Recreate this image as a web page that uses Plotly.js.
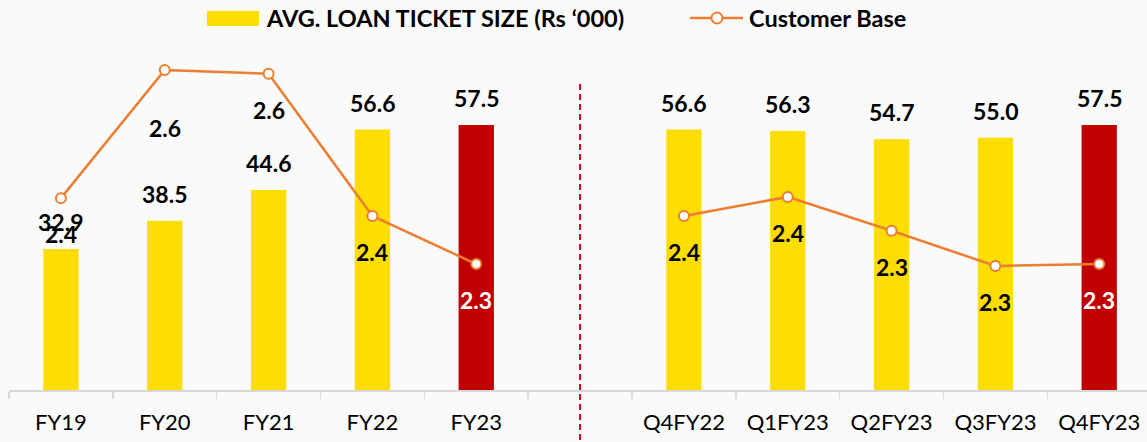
<!DOCTYPE html>
<html>
<head>
<meta charset="utf-8">
<script src="https://cdn.plot.ly/plotly-3.0.1.min.js"></script>
<style>html,body{margin:0;padding:0;background:#fafafa;}#chart{width:1147px;height:442px;}</style>
</head>
<body>
<div id="chart"></div>
<script>
// categories (with a blank separator between yearly and quarterly blocks)
const categories = ['FY19','FY20','FY21','FY22','FY23',' ','Q4FY22','Q1FY23','Q2FY23','Q3FY23','Q4FY23'];
// Avg. loan ticket size (Rs '000)
const ticketSize = [32.9, 38.5, 44.6, 56.6, 57.5, null, 56.6, 56.3, 54.7, 55.0, 57.5];
// Customer base (estimated underlying values; labels shown rounded to 1 decimal)
const customerBase = [2.392, 2.600, 2.594, 2.363, 2.285, null, 2.363, 2.394, 2.339, 2.282, 2.285];
const customerLabels = ['2.4','2.6','2.6','2.4','2.3',null,'2.4','2.4','2.3','2.3','2.3'];
const highlighted = ['FY23','Q4FY23'];
const seriesNames = ['AVG. LOAN TICKET SIZE (Rs \u2018000)', 'Customer Base'];

const YELLOW = '#FFDD00', RED = '#C00000', ORANGE = '#ED7D31';
const FONT = 'Lato, "Open Sans", sans-serif';
const W = 1147, H = 442, M = {l: 9, r: 0, t: 50, b: 52};
const PW = W - M.l - M.r, PH = H - M.t - M.b;
const px = v => (v - M.l) / PW;          // pixel -> paper x
const py = v => (H - M.b - v) / PH;      // pixel -> paper y

const barColors = categories.map(c => highlighted.includes(c) ? RED : YELLOW);

const barTrace = {
  type: 'bar', name: seriesNames[0],
  x: categories, y: ticketSize, yaxis: 'y',
  marker: {color: barColors}, hoverinfo: 'skip'
};
const lineTrace = {
  type: 'scatter', mode: 'lines+markers', name: seriesNames[1],
  x: categories, y: customerBase, yaxis: 'y2', connectgaps: false,
  line: {color: ORANGE, width: 2.5},
  marker: {symbol: 'circle', size: 10, color: '#ffffff', line: {color: ORANGE, width: 2}},
  hoverinfo: 'skip'
};

const annotations = [];
categories.forEach((c, i) => {
  if (ticketSize[i] != null) {
    annotations.push({x: c, y: ticketSize[i], xref: 'x', yref: 'y', text: ticketSize[i].toFixed(1),
      showarrow: false, yanchor: 'middle', yshift: 27,
      font: {family: FONT, size: 23, color: '#000', weight: 'bold'}});
  }
  if (customerBase[i] != null) {
    annotations.push({x: c, y: customerBase[i], xref: 'x', yref: 'y2', text: customerLabels[i],
      showarrow: false, yanchor: 'middle', yshift: c === 'FY20' ? -58 : -36,
      font: {family: FONT, size: 23, weight: 'bold', color: highlighted.includes(c) ? '#ffffff' : '#000'}});
  }
});

// custom legend (wide swatches like the original)
annotations.push({xref: 'paper', yref: 'paper', x: px(264), y: py(18), xanchor: 'left', yanchor: 'middle',
  text: seriesNames[0], showarrow: false, font: {family: FONT, size: 23.5, weight: 'bold', color: '#000'}});
annotations.push({xref: 'paper', yref: 'paper', x: px(747), y: py(18), xanchor: 'left', yanchor: 'middle',
  text: seriesNames[1], showarrow: false, font: {family: FONT, size: 23.5, weight: 'bold', color: '#000'}});

const shapes = [
  {type: 'line', xref: 'x', yref: 'paper', x0: 5, x1: 5, y0: py(84), y1: py(445),
    line: {color: '#D0021B', width: 2, dash: '6px,4px'}},
  {type: 'rect', xref: 'paper', yref: 'paper', x0: px(207), x1: px(259), y0: py(26), y1: py(11),
    fillcolor: YELLOW, line: {width: 0}},
  {type: 'line', xref: 'paper', yref: 'paper', x0: px(690), x1: px(743), y0: py(18), y1: py(18),
    line: {color: ORANGE, width: 2.5}},
  {type: 'circle', xref: 'paper', yref: 'paper', x0: px(711.5), x1: px(722.5), y0: py(23.5), y1: py(12.5),
    fillcolor: '#ffffff', line: {color: ORANGE, width: 2}}
];

const layout = {
  width: W, height: H,
  paper_bgcolor: '#fafafa', plot_bgcolor: '#fafafa',
  margin: M,
  font: {family: FONT, color: '#000'},
  bargap: 0.66,
  showlegend: false,
  xaxis: {type: 'category', categoryarray: categories, categoryorder: 'array',
    range: [-0.5, 10.46], showline: true, linecolor: '#d9d9d9', linewidth: 1.5,
    ticks: 'outside', tickson: 'boundaries', ticklen: 7, tickcolor: '#d9d9d9', tickwidth: 1.5,
    ticklabelstandoff: 12,
    tickfont: {family: FONT, size: 22, color: '#000'}, showgrid: false, zeroline: false,
    fixedrange: true},
  yaxis: {range: [4.9, 72.4], visible: false, showgrid: false, zeroline: false},
  yaxis2: {range: [2.0805, 2.6325], overlaying: 'y', side: 'right', visible: false,
    showgrid: false, zeroline: false},
  shapes: shapes,
  annotations: annotations
};

Plotly.newPlot('chart', [barTrace, lineTrace], layout, {displayModeBar: false, staticPlot: true});
</script>
</body>
</html>
